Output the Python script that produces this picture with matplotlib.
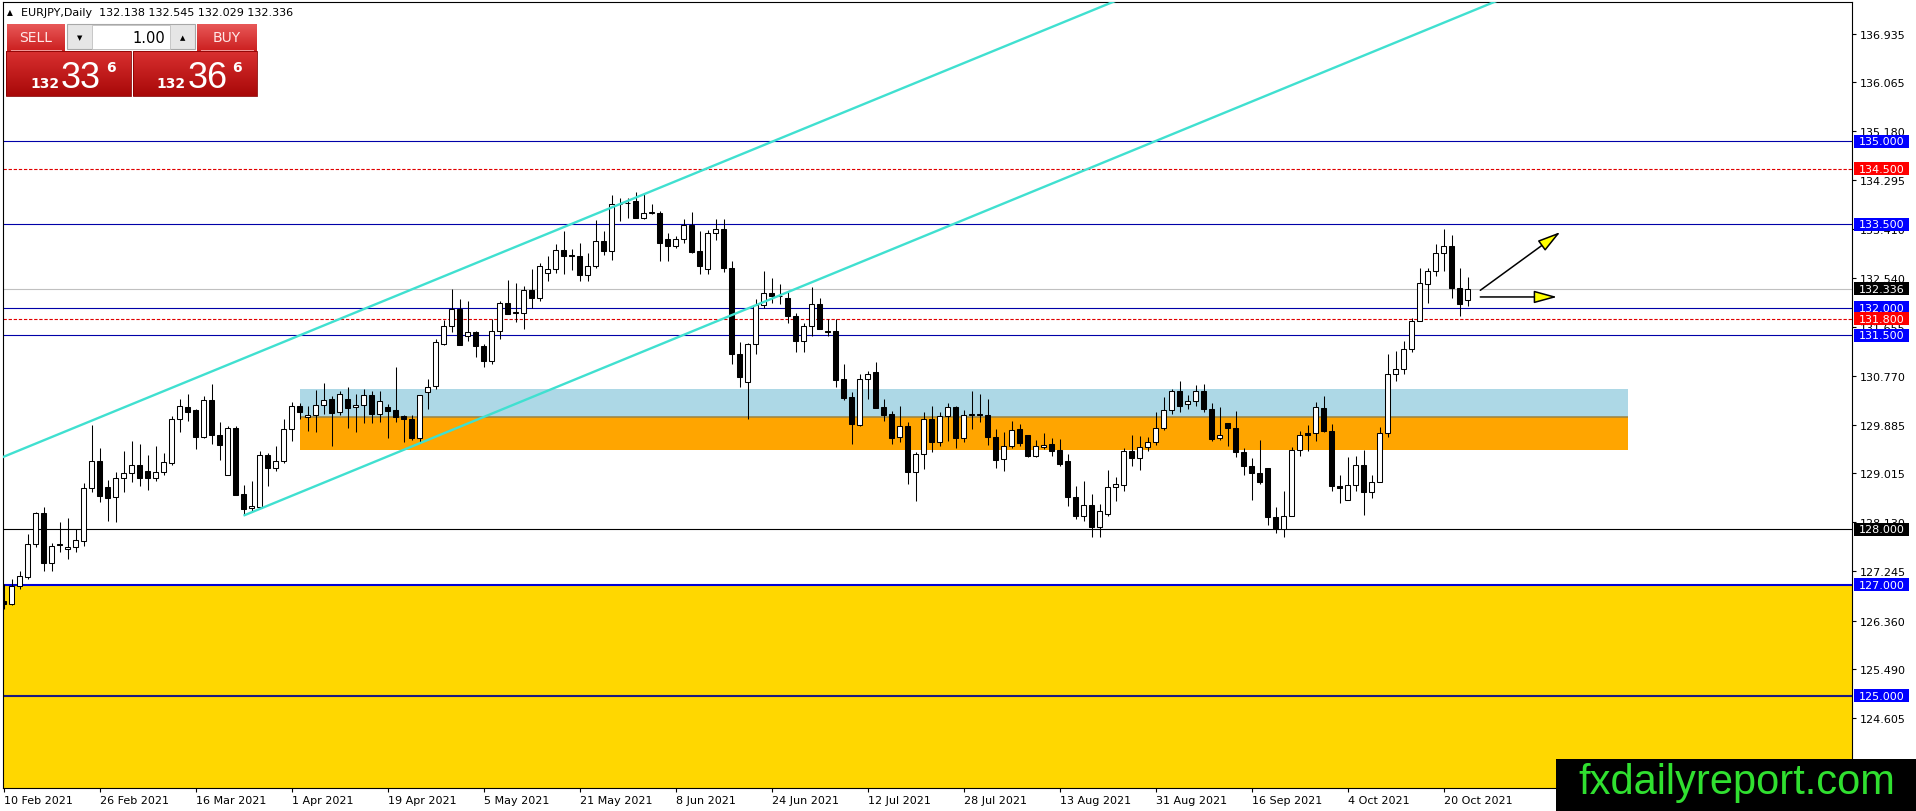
import numpy as np
import pandas as pd
import matplotlib
matplotlib.use("Agg")
import matplotlib.pyplot as plt
import matplotlib.transforms as mtransforms
from matplotlib.patches import Rectangle, FancyArrowPatch
from matplotlib.colors import LinearSegmentedColormap

# ── Output geometry (pixels) ───────────────────────────────────────────────────
W, H, DPI = 1916, 812, 100
PLOT_L, PLOT_R = 3, 1852      # chart frame, left / right edge
PLOT_T, PLOT_B = 3, 789       # chart frame, top / bottom edge
FIRST_BAR_PX   = 3.5          # x pixel of the first candle
BAR_PX         = 8            # candle spacing
Y_RANGE        = (123.342, 137.505)

# ── Data ───────────────────────────────────────────────────────────────────────
SYMBOL     = "EURJPY,Daily"
FIRST_DAY  = "2021-02-10"

OPEN = [
    126.71, 126.66, 126.99, 127.14, 127.74, 128.30, 127.39, 127.74, 127.64, 127.68,
    127.80, 128.74, 129.24, 128.76, 128.58, 128.92, 129.01, 129.16, 129.05, 128.92,
    129.03, 129.20, 129.99, 130.20, 130.15, 129.66, 130.34, 129.71, 128.99, 129.82,
    128.64, 128.38, 128.41, 129.34, 129.10, 129.24, 129.81, 130.22, 130.03, 130.07,
    130.25, 130.35, 130.11, 130.36, 130.21, 130.25, 130.42, 130.09, 130.20, 130.15,
    130.04, 130.00, 129.64, 130.47, 130.58, 131.35, 131.66, 131.97, 131.49, 131.55,
    131.30, 131.04, 131.57, 132.09, 131.90, 131.90, 132.32, 132.18, 132.63, 132.69,
    133.03, 132.94, 132.93, 132.59, 132.74, 133.19, 133.01, 133.86, 133.88, 133.92,
    133.62, 133.71, 133.70, 133.23, 133.11, 133.23, 133.49, 133.01, 132.69, 133.34,
    133.41, 132.72, 131.16, 130.65, 131.34, 132.04, 132.26, 132.21, 132.17, 131.84,
    131.40, 131.66, 132.07, 131.57, 131.57, 130.71, 130.39, 129.89, 130.71, 130.83,
    130.20, 130.08, 129.66, 129.86, 129.04, 129.36, 130.00, 129.57, 130.04, 130.20,
    129.64, 130.07, 130.08, 130.07, 129.66, 129.27, 129.51, 129.81, 129.70, 129.33,
    129.49, 129.54, 129.43, 129.23, 128.58, 128.24, 128.44, 128.04, 128.28, 128.76,
    128.81, 129.41, 129.28, 129.49, 129.57, 129.82, 130.16, 130.49, 130.27, 130.31,
    130.49, 130.18, 129.64, 129.91, 129.82, 129.39, 129.15, 129.01, 129.10, 128.22,
    128.00, 128.24, 129.43, 129.73, 129.73, 130.19, 129.77, 128.79, 128.53, 128.81,
    129.17, 128.67, 128.86, 129.73, 130.80, 130.90, 131.25, 131.75, 132.43, 132.65,
    132.98, 133.11, 132.36, 132.138,
]
HIGH = [
    127.02, 127.11, 127.25, 127.92, 128.32, 128.40, 127.75, 128.13, 128.20, 128.00,
    128.84, 129.89, 129.47, 128.89, 129.03, 129.41, 129.59, 129.54, 129.35, 129.50,
    129.37, 130.04, 130.35, 130.44, 130.18, 130.40, 130.62, 129.94, 129.87, 129.87,
    128.81, 128.88, 129.41, 129.38, 129.50, 129.99, 130.29, 130.28, 130.22, 130.51,
    130.64, 130.41, 130.50, 130.56, 130.44, 130.54, 130.50, 130.50, 130.27, 130.92,
    130.07, 130.06, 130.43, 130.72, 131.44, 131.77, 132.33, 132.15, 132.11, 131.58,
    131.34, 131.79, 132.12, 132.50, 132.44, 132.39, 132.69, 132.81, 132.92, 133.14,
    133.38, 133.05, 133.17, 132.99, 133.58, 133.37, 134.03, 133.97, 133.97, 134.09,
    134.04, 133.86, 133.74, 133.35, 133.29, 133.59, 133.73, 133.37, 133.40, 133.59,
    133.59, 132.83, 131.37, 131.36, 132.15, 132.66, 132.53, 132.42, 132.30, 131.90,
    131.72, 132.37, 132.17, 131.80, 131.79, 130.98, 130.47, 130.81, 130.86, 131.01,
    130.36, 130.13, 130.22, 129.93, 129.39, 130.12, 130.23, 130.12, 130.28, 130.23,
    130.16, 130.49, 130.44, 130.35, 129.81, 129.75, 129.96, 129.90, 129.70, 129.62,
    129.74, 129.65, 129.63, 129.36, 128.79, 128.88, 128.64, 128.46, 129.07, 128.95,
    129.46, 129.70, 129.68, 129.66, 130.11, 130.38, 130.54, 130.67, 130.43, 130.60,
    130.63, 130.28, 130.20, 129.91, 130.13, 129.46, 129.28, 129.61, 129.10, 128.40,
    128.70, 129.48, 129.77, 129.88, 130.30, 130.41, 129.90, 128.98, 129.30, 129.32,
    129.43, 128.98, 129.84, 131.16, 131.21, 131.39, 131.81, 132.71, 132.72, 133.14,
    133.41, 133.31, 132.72, 132.545,
]
LOW = [
    126.57, 126.64, 126.92, 127.11, 127.68, 127.26, 127.26, 127.60, 127.46, 127.59,
    127.71, 128.68, 128.50, 128.16, 128.13, 128.68, 128.86, 128.78, 128.72, 128.88,
    128.98, 129.17, 129.76, 129.95, 129.45, 129.64, 129.54, 129.26, 128.99, 128.62,
    128.26, 128.31, 128.41, 128.78, 129.06, 129.19, 129.60, 129.99, 129.78, 129.75,
    130.08, 129.51, 130.06, 129.83, 129.75, 129.92, 129.92, 129.93, 129.64, 129.94,
    129.58, 129.61, 129.57, 130.17, 130.54, 131.33, 131.55, 131.33, 131.39, 131.10,
    130.93, 130.99, 131.44, 131.89, 131.73, 131.62, 132.00, 132.12, 132.47, 132.63,
    132.60, 132.67, 132.48, 132.47, 132.72, 132.95, 132.86, 133.56, 133.61, 133.62,
    133.59, 133.68, 132.84, 132.84, 133.08, 133.16, 132.99, 132.60, 132.60, 133.22,
    132.64, 130.98, 130.56, 129.99, 131.16, 132.00, 132.09, 132.06, 131.72, 131.20,
    131.20, 131.48, 131.61, 131.49, 130.56, 130.34, 129.54, 129.86, 130.36, 130.19,
    129.96, 129.54, 129.57, 128.82, 128.52, 129.09, 129.40, 129.51, 129.60, 129.47,
    129.57, 129.81, 129.93, 129.53, 129.10, 129.06, 129.47, 129.51, 129.31, 129.31,
    129.45, 129.32, 129.15, 128.43, 128.19, 128.16, 127.86, 127.86, 128.25, 128.52,
    128.70, 129.15, 129.08, 129.42, 129.53, 129.80, 130.08, 130.12, 130.17, 130.23,
    130.11, 129.60, 129.62, 129.51, 129.30, 128.99, 128.54, 128.82, 128.08, 127.94,
    127.86, 128.24, 129.32, 129.41, 129.60, 129.75, 128.70, 128.47, 128.53, 128.69,
    128.26, 128.56, 128.86, 129.67, 130.68, 130.81, 131.19, 131.75, 132.09, 132.56,
    132.66, 132.18, 131.85, 132.029,
]
CLOSE = [
    126.66, 126.99, 127.16, 127.74, 128.30, 127.39, 127.71, 127.72, 127.68, 127.81,
    128.74, 129.24, 128.60, 128.56, 128.92, 129.01, 129.16, 128.93, 128.92, 129.03,
    129.21, 130.00, 130.23, 130.12, 129.66, 130.34, 129.71, 129.53, 129.82, 128.63,
    128.37, 128.42, 129.34, 129.10, 129.24, 129.81, 130.22, 130.11, 130.07, 130.25,
    130.34, 130.10, 130.45, 130.19, 130.24, 130.42, 130.09, 130.31, 130.14, 130.03,
    130.00, 129.64, 130.42, 130.56, 131.37, 131.66, 131.97, 131.33, 131.55, 131.30,
    131.04, 131.57, 132.09, 131.89, 131.91, 132.32, 132.18, 132.74, 132.69, 133.03,
    132.92, 132.93, 132.59, 132.74, 133.19, 133.01, 133.86, 133.87, 133.89, 133.62,
    133.71, 133.71, 133.17, 133.11, 133.23, 133.49, 133.00, 132.75, 133.34, 133.41,
    132.72, 131.16, 130.74, 131.34, 132.04, 132.26, 132.21, 132.20, 131.84, 131.40,
    131.66, 132.07, 131.61, 131.56, 130.70, 130.37, 129.90, 130.71, 130.81, 130.19,
    130.07, 129.65, 129.87, 129.04, 129.36, 130.00, 129.57, 130.04, 130.20, 129.64,
    130.07, 130.08, 130.07, 129.66, 129.26, 129.51, 129.80, 129.56, 129.32, 129.50,
    129.53, 129.42, 129.18, 128.58, 128.24, 128.44, 128.04, 128.34, 128.76, 128.82,
    129.41, 129.28, 129.49, 129.57, 129.82, 130.16, 130.49, 130.22, 130.31, 130.49,
    130.18, 129.63, 129.71, 129.82, 129.39, 129.15, 129.01, 128.86, 128.22, 128.00,
    128.24, 129.43, 129.71, 129.71, 130.20, 129.77, 128.78, 128.74, 128.81, 129.17,
    128.67, 128.86, 129.73, 130.81, 130.90, 131.25, 131.75, 132.45, 132.65, 132.98,
    133.11, 132.36, 132.07, 132.336,
]

DATE_LABELS = [
    "10 Feb 2021", "26 Feb 2021", "16 Mar 2021", "1 Apr 2021", "19 Apr 2021",
    "5 May 2021", "21 May 2021", "8 Jun 2021", "24 Jun 2021", "12 Jul 2021",
    "28 Jul 2021", "13 Aug 2021", "31 Aug 2021", "16 Sep 2021", "4 Oct 2021",
    "20 Oct 2021",
]
PRICE_TICKS = [
    136.935, 136.065, 135.180, 134.295, 133.410, 132.540, 131.655, 130.770,
    129.885, 129.015, 128.130, 127.245, 126.360, 125.490, 124.605,
]

# horizontal levels and their kind (style chosen below)
LEVELS      = [135.000, 134.500, 133.500, 132.000, 131.800, 131.500, 128.000, 127.000, 125.000]
LEVEL_KINDS = ["blue", "red", "blue", "blue", "red", "blue", "black", "blue_thick", "navy_thick"]

YELLOW_TOP   = 127.0
ZONE_BARS    = (37, 203)
BLUE_ZONE    = (130.02, 130.54)
ORANGE_ZONE  = (129.44, 130.02)

CHANNEL_UPPER = [(0, 129.31), (100, 135.22)]
CHANNEL_LOWER = [(30, 128.25), (130, 134.17)]

ARROWS = [
    ((184.6, 132.31), (194.6, 133.36)),
    ((184.6, 132.19), (194.2, 132.19)),
]

BID_PRICE = ("132", "33", "6")
ASK_PRICE = ("132", "36", "6")
LOT_SIZE  = "1.00"
WATERMARK = "fxdailyreport.com"

# ── Styles ─────────────────────────────────────────────────────────────────────
LINE_STYLE = {
    "blue":       dict(color="#0000A8", lw=0.8, ls="-"),
    "red":        dict(color="#E00000", lw=0.8, ls=(0, (3, 1.6))),
    "black":      dict(color="#000000", lw=0.8, ls="-"),
    "blue_thick": dict(color="#0000D8", lw=1.5, ls="-"),
    "navy_thick": dict(color="#1A1A80", lw=1.5, ls="-"),
}
LABEL_BG = {"blue": "#0000FF", "red": "#FF0000", "black": "#000000",
            "blue_thick": "#0000FF", "navy_thick": "#0000FF"}

TURQUOISE = "#40E0D0"


def gradient_box(axu, x0, y0, x1, y1, top, bottom, z):
    cmap = LinearSegmentedColormap.from_list("grad", [top, bottom])
    axu.imshow(np.linspace(0, 1, 64).reshape(-1, 1), cmap=cmap,
               extent=(x0, x1, y1, y0), aspect="auto", zorder=z,
               interpolation="bilinear")


# ── Figure ─────────────────────────────────────────────────────────────────────
fig = plt.figure(figsize=(W / DPI, H / DPI), dpi=DPI, facecolor="white")
ax = fig.add_axes([PLOT_L / W, 1 - PLOT_B / H,
                   (PLOT_R - PLOT_L) / W, (PLOT_B - PLOT_T) / H])
ax.set_xlim((PLOT_L - FIRST_BAR_PX) / BAR_PX, (PLOT_R - FIRST_BAR_PX) / BAR_PX)
ax.set_ylim(*Y_RANGE)
for sp in ax.spines.values():
    sp.set_color("black")
    sp.set_linewidth(0.8)

# background zones
ax.axhspan(Y_RANGE[0] - 1, YELLOW_TOP, color="#FFD700", lw=0, zorder=0.5)
ax.add_patch(Rectangle((ZONE_BARS[0], BLUE_ZONE[0]), ZONE_BARS[1] - ZONE_BARS[0],
                       BLUE_ZONE[1] - BLUE_ZONE[0], facecolor="#ADD8E6", lw=0, zorder=0.6))
ax.add_patch(Rectangle((ZONE_BARS[0], ORANGE_ZONE[0]), ZONE_BARS[1] - ZONE_BARS[0],
                       ORANGE_ZONE[1] - ORANGE_ZONE[0], facecolor="#FFA500", lw=0, zorder=0.6))
ax.hlines(ORANGE_ZONE[1], ZONE_BARS[0], ZONE_BARS[1], color="#9A8240", lw=1.1, zorder=0.7)

# horizontal levels
for lvl, kind in zip(LEVELS, LEVEL_KINDS):
    ax.axhline(lvl, zorder=1, **LINE_STYLE[kind])
last_close = CLOSE[-1]
ax.axhline(last_close, color="#C0C0C0", lw=0.8, zorder=1)

# candles
o, hi, lo, c = (np.array(a) for a in (OPEN, HIGH, LOW, CLOSE))
x = np.arange(len(o))
up = c >= o
body_lo = np.minimum(o, c)
body_h = np.maximum(np.abs(c - o), 0.012)
ax.vlines(x, lo, hi, color="black", lw=0.75, zorder=4)
ax.bar(x[up], body_h[up], bottom=body_lo[up], width=0.56,
       facecolor="white", edgecolor="black", lw=0.75, zorder=5)
ax.bar(x[~up], body_h[~up], bottom=body_lo[~up], width=0.56,
       facecolor="black", edgecolor="black", lw=0.75, zorder=5)

# channel lines (rays)
for pts, start in ((CHANNEL_UPPER, -10), (CHANNEL_LOWER, CHANNEL_LOWER[0][0])):
    (b0, p0), (b1, p1) = pts
    slope = (p1 - p0) / (b1 - b0)
    bx = np.array([start, 260])
    ax.plot(bx, p0 + slope * (bx - b0), color=TURQUOISE, lw=1.7, zorder=6,
            solid_capstyle="butt")

# arrows
for (b0, p0), (b1, p1) in ARROWS:
    ax.add_patch(FancyArrowPatch((b0, p0), (b1, p1),
                                 arrowstyle="-|>,head_length=0.95,head_width=0.26",
                                 mutation_scale=15, lw=1.1, edgecolor="black",
                                 facecolor="#FFFF00", zorder=7, shrinkA=0, shrinkB=0))

# ── Axes ticks ─────────────────────────────────────────────────────────────────
dates = pd.bdate_range(FIRST_DAY, periods=len(OPEN))
date_txt = [f"{d.day} {d:%b %Y}" for d in dates]
ax.set_xticks([date_txt.index(t) for t in DATE_LABELS])
ax.set_xticklabels(DATE_LABELS)
for lbl in ax.get_xticklabels():
    lbl.set_horizontalalignment("left")
ax.tick_params(axis="x", direction="out", length=3, width=0.8, pad=2,
               labelsize=8, colors="black")

ax.yaxis.tick_right()
ax.set_yticks(PRICE_TICKS)
ax.set_yticklabels([f"{v:.3f}" for v in PRICE_TICKS])
ax.tick_params(axis="y", direction="out", length=3, width=0.8, pad=2.5,
               labelsize=8, colors="black")

# right-side price labels
blend = mtransforms.blended_transform_factory(ax.transAxes, ax.transData)
ax_w_px = PLOT_R - PLOT_L
box_h = 13 / ((PLOT_B - PLOT_T) / (Y_RANGE[1] - Y_RANGE[0]))
tags = list(zip(LEVELS, [LABEL_BG[k] for k in LEVEL_KINDS]))
tags.insert(3, (last_close, "#000000"))
for i, (lvl, bg) in enumerate(tags):
    z = 20 + i
    ax.add_patch(Rectangle((1 + 2 / ax_w_px, lvl - box_h / 2), 55 / ax_w_px, box_h,
                           transform=blend, facecolor=bg, lw=0, clip_on=False, zorder=z))
    ax.text(1 + 6.5 / ax_w_px, lvl, f"{lvl:.3f}", transform=blend, color="white",
            fontsize=8, va="center", ha="left", clip_on=False, zorder=z + 0.5)

# ── Overlay: title, trade panel, watermark (pixel coordinates) ─────────────────
ui = fig.add_axes([0, 0, 1, 1], zorder=10)
ui.patch.set_alpha(0)
ui.axis("off")

ui.text(7, 12.7, "▲", fontsize=5.5, va="center", ha="left", color="black")
ohlc = " ".join(f"{v:.3f}" for v in (OPEN[-1], HIGH[-1], LOW[-1], CLOSE[-1]))
ui.text(21, 12.7, f"{SYMBOL}  {ohlc}", fontsize=8, va="center", ha="left", color="black")

# SELL / BUY buttons
for x0, x1, label in ((7, 65, "SELL"), (197, 256.7, "BUY")):
    gradient_box(ui, x0, 25, x1, 51.7, "#E85858", "#CC2020", 11)
    ui.plot([x0 + 4, x1 - 4], [51.2, 51.2], color="#F29A9A", lw=0.7, zorder=12)
    ui.text((x0 + x1) / 2, 38.5, label, fontsize=10, color="#FFE8E8",
            ha="center", va="center", zorder=13)

# lot spinner
ui.add_patch(Rectangle((67, 25), 128, 25, facecolor="#E6E6E6", edgecolor="#A8A8A8",
                       lw=0.8, zorder=11))
ui.add_patch(Rectangle((92.5, 25.5), 78, 24, facecolor="white", edgecolor="#C0C0C0",
                       lw=0.6, zorder=12))
ui.text(80, 38, "▼", fontsize=5, ha="center", va="center", zorder=13)
ui.text(183, 38, "▲", fontsize=5, ha="center", va="center", zorder=13)
ui.text(165.5, 38.5, LOT_SIZE, fontsize=10.5, ha="right", va="center", zorder=13)

# price panels
for (x0, x1), (big, mid, pip) in (((6, 131), BID_PRICE), ((133.3, 256.7), ASK_PRICE)):
    gradient_box(ui, x0, 52.3, x1, 96.7, "#D93030", "#A80808", 11)
    ui.add_patch(Rectangle((x0, 52.3), x1 - x0, 44.4, facecolor="none",
                           edgecolor="#8A0000", lw=0.6, zorder=12))
    left = x0 + (24 if x0 < 100 else 23)
    ui.text(left, 87.5, big, fontsize=10, fontweight="bold", color="white",
            ha="left", va="baseline", zorder=13)
    ui.text(left + 31, 87.5, mid, fontsize=26, color="white", family="Liberation Sans",
            ha="left", va="baseline", zorder=13)
    ui.text(left + 76, 61, pip, fontsize=10, fontweight="bold", color="white",
            ha="left", va="top", zorder=13)

# watermark
ui.add_patch(Rectangle((1556, 760), W - 1556, H - 760, facecolor="black", lw=0, zorder=11))
ui.text(1737, 783, WATERMARK, fontsize=30, color="#30E030", family="Liberation Sans",
        ha="center", va="center", zorder=12)

ui.set_xlim(0, W)
ui.set_ylim(H, 0)

fig.savefig("out.png", dpi=DPI, facecolor="white")
